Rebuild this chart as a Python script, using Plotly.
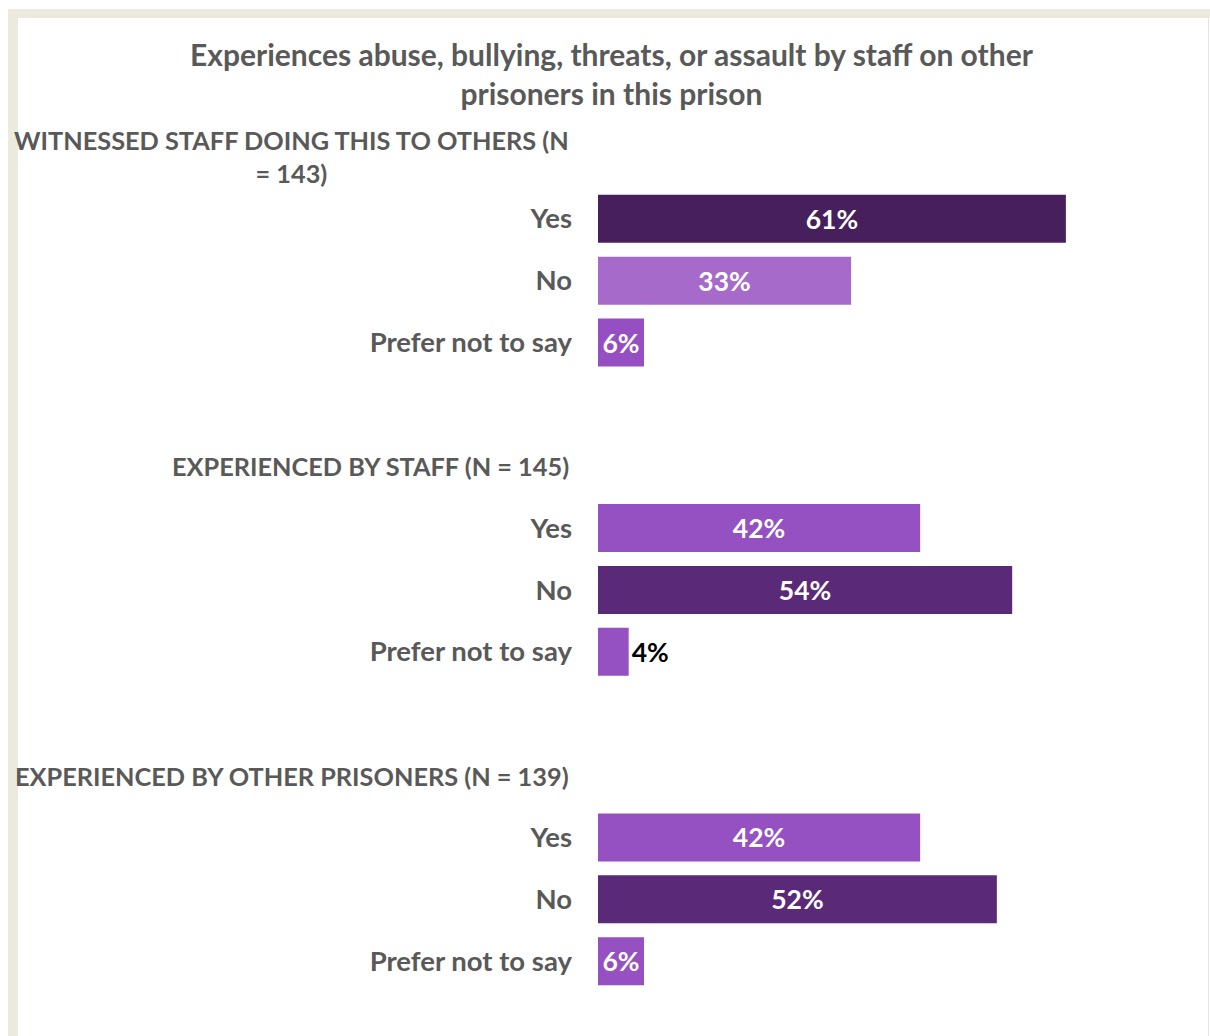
import plotly.graph_objects as go

# ---- data ----
title_text = "Experiences abuse, bullying, threats, or assault by staff on other<br>prisoners in this prison"
group_labels = [
    "WITNESSED STAFF DOING THIS TO OTHERS (N<br>= 143)",
    "EXPERIENCED BY STAFF (N = 145)",
    "EXPERIENCED BY OTHER PRISONERS (N = 139)",
]
responses = ["Yes", "No", "Prefer not to say"]
witnessed_pct = [61, 33, 6]
staff_pct = [42, 54, 4]
prisoners_pct = [42, 52, 6]
group_values = [witnessed_pct, staff_pct, prisoners_pct]

# ---- styles ----
group_colors = [
    ["#461F5C", "#A66ACA", "#954FC2"],
    ["#9550C1", "#5A2A78", "#9550C1"],
    ["#9550C1", "#5A2A78", "#9550C1"],
]
FONT = "Lato"
GRAY = "#595959"
W, H = 1210, 1036
ML, MR, MT, MB = 598, 20, 126, 0
PX_PER_PCT = 7.67

# build category order: header, responses, gap per group
cats, ticktext = [], []
for gi in range(len(group_labels)):
    cats.append(f"h{gi}")
    ticktext.append("")
    for r in responses:
        cats.append(f"g{gi}|{r}")
        ticktext.append(r)
    if gi < len(group_labels) - 1:
        cats.append(f"gap{gi}")
        ticktext.append("")

fig = go.Figure()
for gi, vals in enumerate(group_values):
    ys = [f"g{gi}|{r}" for r in responses]
    fig.add_trace(go.Bar(
        x=vals, y=ys, orientation="h",
        marker=dict(color=group_colors[gi], line=dict(width=0)),
        text=[f"{v}%" for v in vals],
        textposition=["outside" if v < 5 else "inside" for v in vals],
        insidetextanchor="middle",
        insidetextfont=dict(family=FONT, size=26.5, color="white", weight="bold"),
        outsidetextfont=dict(family=FONT, size=26.5, color="black", weight="bold"),
        constraintext="none", cliponaxis=False,
        showlegend=False, hoverinfo="skip",
    ))

plot_w = W - ML - MR
plot_h = H - MT - MB
n_slots = 14.71


def px(xp):
    return (xp - ML) / plot_w


def py(yp):
    return 1 - (yp - MT) / plot_h


annotations = []
for gi, lab in enumerate(group_labels):
    annotations.append(dict(
        text=f"<b>{lab}</b>", xref="paper", x=0, xanchor="right", xshift=-27,
        yref="y", y=cats.index(f"h{gi}"), yanchor="middle",
        showarrow=False, align="center",
        font=dict(family=FONT, size=25.3, color=GRAY),
    ))
annotations.append(dict(
    text=f"<b>{title_text}</b>", xref="paper", x=px(611.5), xanchor="center",
    yref="paper", y=py(73.5), yanchor="middle", showarrow=False, align="center",
    font=dict(family=FONT, size=30, color=GRAY),
))

shapes = [
    dict(type="rect", xref="paper", yref="paper", x0=px(8), x1=px(1210), y0=py(9), y1=py(18),
         fillcolor="#ECEADF", line=dict(width=0), layer="below"),
    dict(type="rect", xref="paper", yref="paper", x0=px(8), x1=px(18), y0=py(9), y1=py(1040),
         fillcolor="#ECEADF", line=dict(width=0), layer="below"),
    dict(type="line", xref="paper", yref="paper", x0=px(1208.5), x1=px(1208.5), y0=py(18), y1=py(1040),
         line=dict(color="#E4E4E4", width=1), layer="below"),
]

fig.update_layout(
    width=W, height=H,
    margin=dict(l=ML, r=MR, t=MT, b=MB, pad=0),
    paper_bgcolor="white", plot_bgcolor="rgba(0,0,0,0)",
    bargap=1 - 48 / 61.86,
    xaxis=dict(range=[0, plot_w / PX_PER_PCT], visible=False, fixedrange=True),
    yaxis=dict(type="category", categoryarray=cats, categoryorder="array",
               tickvals=cats, ticktext=ticktext,
               range=[n_slots - 0.5, -0.5],
               showgrid=False, zeroline=False, showline=False, ticks="",
               ticklabelstandoff=25,
               tickfont=dict(family=FONT, size=27.5, color=GRAY, weight="bold")),
    annotations=annotations, shapes=shapes,
)

fig.write_html("out.html")
